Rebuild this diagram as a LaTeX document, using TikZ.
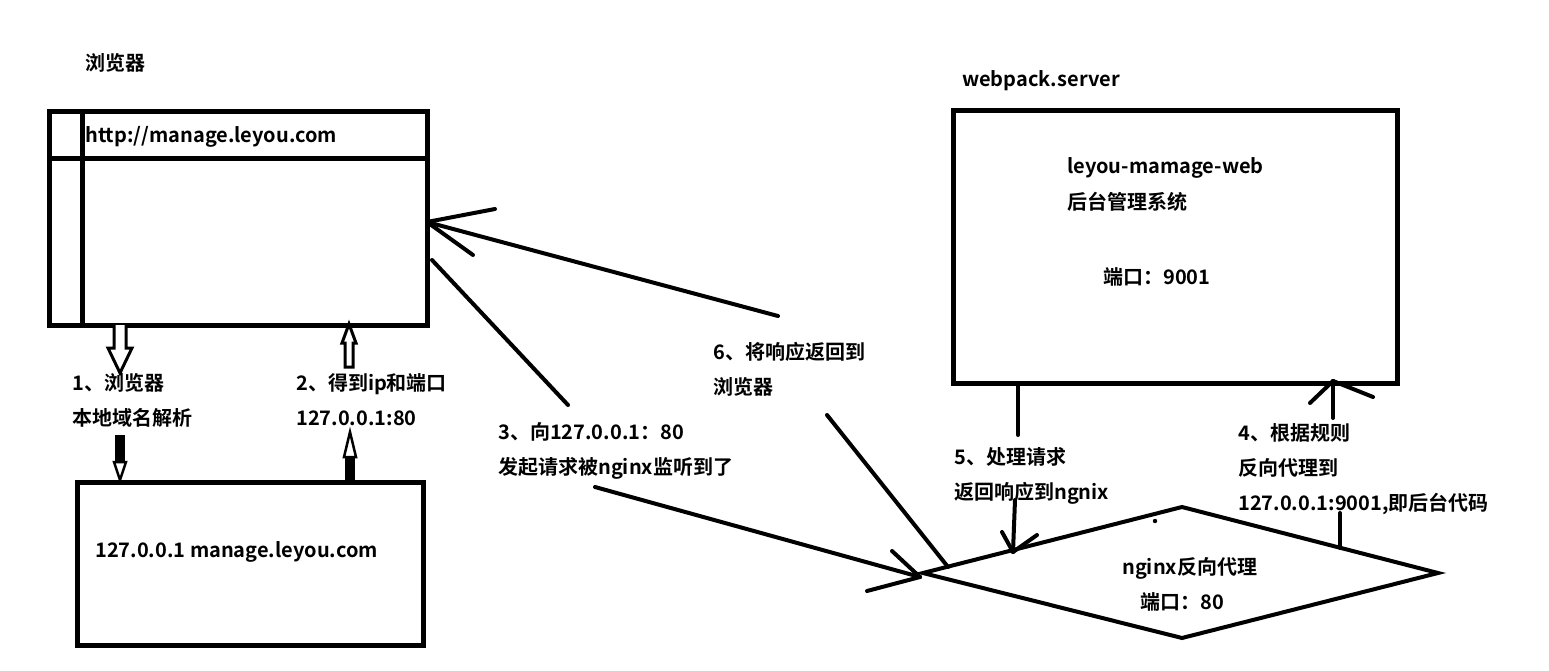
\documentclass[tikz,border=0pt]{standalone}
\usepackage{fontspec}
\setmainfont{Noto Sans CJK SC}[BoldFont={Noto Sans CJK SC Bold}]
\begin{document}
\begin{tikzpicture}[x=1pt,y=-1pt,
  box/.style={draw=black,line width=5pt,rectangle,inner sep=0pt,outer sep=0pt},
  conn/.style={draw=black,line width=4pt,line cap=round,line join=round},
  hollow/.style={draw=black,line width=3pt,line join=miter,fill=white},
  lbl/.style={anchor=west,inner sep=0pt,yshift=-3.5pt,font=\bfseries\fontsize{20pt}{24pt}\selectfont,text height=0.88em,text depth=0.12em}
]
\useasboundingbox (0,0) rectangle (1549,671);

% boxes
\node[box,minimum width=378pt,minimum height=213pt] (browser) at (238,218.5) {};
\node[box,minimum width=444pt,minimum height=272pt] (server) at (1175,247) {};
\node[box,minimum width=346pt,minimum height=163pt] (hosts) at (250,563.5) {};
\draw[line width=5pt] (82,112) -- (82,325);
\draw[line width=5pt] (49,159) -- (427,159);

% diamond (nginx)
\coordinate (dl) at (923,573);
\coordinate (dt) at (1182,507);
\coordinate (dr) at (1438,573);
\coordinate (db) at (1182,638);
\draw[line width=4pt,line join=miter] (dl) -- (dt) -- (dr) -- (db) -- cycle;
\fill (1155,521) circle (2.2pt);

% labels
\node[lbl] (tBrowser) at (85,63) {浏览器};
\node[lbl] (tUrl) at (85,135) {http://manage.leyou.com};
\node[lbl] (t1a) at (72,383) {1、浏览器};
\node[lbl] (t1b) at (72,418) {本地域名解析};
\node[lbl] (t2a) at (296,383) {2、得到ip和端口};
\node[lbl] (t2b) at (296,418) {127.0.0.1:80};
\node[lbl] (tHosts) at (95,550) {127.0.0.1 manage.leyou.com};
\node[lbl] (t3a) at (498,432) {3、向127.0.0.1：80};
\node[lbl] (t3b) at (498,467) {发起请求被nginx监听到了};
\node[lbl] (t6a) at (713,352) {6、将响应返回到};
\node[lbl] (t6b) at (713,387) {浏览器};
\node[lbl] (tServer) at (962,79) {webpack.server};
\node[lbl] (tS1) at (1067,166) {leyou-mamage-web};
\node[lbl] (tS2) at (1067,202) {后台管理系统};
\node[lbl] (tS3) at (1103,277) {端口：9001};
\node[lbl] (t5a) at (954,457) {5、处理请求};
\node[lbl] (t5b) at (954,492) {返回响应到ngnix};
\node[lbl] (t4a) at (1238,433) {4、根据规则};
\node[lbl] (t4b) at (1238,468) {反向代理到};
\node[lbl] (t4c) at (1238,503) {127.0.0.1:9001,即后台代码};
\node[lbl] (tN1) at (1122,567) {nginx反向代理};
\node[lbl] (tN2) at (1140,602) {端口：80};

% arrow 1 (browser -> hosts), hollow block arrows
\coordinate (a1s) at (120,325);
\coordinate (a1e) at (120,480);
\draw[hollow] (a1s) ++(-6,0) -- ++(0,23) -- ++(-6,0) -- ++(12,25) -- ++(12,-25) -- ++(-6,0) -- ++(0,-23);
\fill (a1e) ++(-5,-45) rectangle ++(10,27);
\draw[hollow,line width=2.5pt] (a1e) -- ++(-6,-18) -- ++(12,0) -- cycle;

% arrow 2 (hosts -> browser)
\coordinate (a2s) at (350,482);
\coordinate (a2e) at (349,325);
\draw[hollow] (a2e) ++(-4,42) -- ++(0,-24) -- ++(-3,0) -- ++(7,-19) -- ++(7,19) -- ++(-3,0) -- ++(0,24) -- cycle;
\fill (a2s) ++(-5,0) rectangle ++(10,-25);
\draw[hollow,line width=2.5pt] (a2s) ++(0,-50) -- ++(-6,25) -- ++(12,0) -- cycle;

% line 6 (nginx -> browser)
\coordinate (c6a) at (948,567);
\coordinate (c6b) at (827,415);
\coordinate (c6c) at (778,316);
\coordinate (c6d) at (427,222);
\draw[conn] (c6a) -- (c6b);
\draw[conn] (c6c) -- (c6d);
\draw[conn] (c6d) -- (495,209);
\draw[conn] (c6d) -- (473,255);

% line 3 (browser -> nginx)
\coordinate (c3a) at (432,260);
\coordinate (c3b) at (568,405);
\coordinate (c3c) at (595,487);
\coordinate (c3d) at (920,577);
\draw[conn] (c3a) -- (c3b);
\draw[conn] (c3c) -- (c3d);
\draw[conn] (c3d) -- (892,551);
\draw[conn] (c3d) -- (867,591);

% line 5 (server -> nginx)
\coordinate (c5a) at (1018,385);
\coordinate (c5b) at (1018,435);
\coordinate (c5c) at (1015,500);
\coordinate (c5d) at (1013,552);
\draw[conn] (c5a) -- (c5b);
\draw[conn] (c5c) -- (c5d);
\draw[conn] (c5d) -- (1002,532);
\draw[conn] (c5d) -- (1037,535);

% line 4 (nginx -> server)
\coordinate (c4a) at (1340,548);
\coordinate (c4b) at (1340,513);
\coordinate (c4c) at (1333,418);
\coordinate (c4d) at (1333,381);
\draw[conn] (c4a) -- (c4b);
\draw[conn] (c4c) -- (c4d);
\draw[conn] (c4d) -- (1310,403);
\draw[conn] (c4d) -- (1373,397);
\end{tikzpicture}
\end{document}
